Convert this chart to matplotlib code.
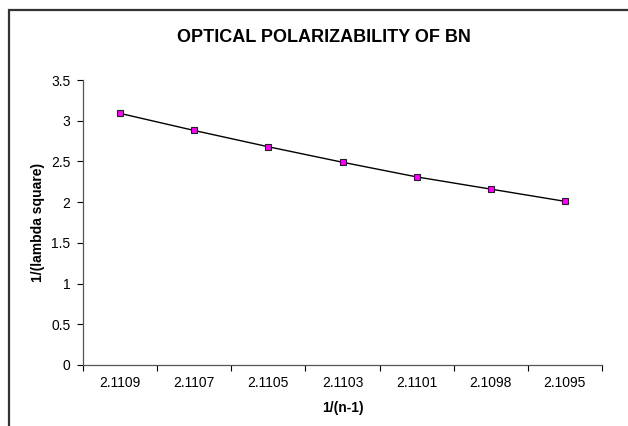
import matplotlib

matplotlib.use("Agg")
import matplotlib.pyplot as plt
import numpy as np
from matplotlib.patches import Rectangle

# values
categories = ["2.1109", "2.1107", "2.1105", "2.1103", "2.1101", "2.1098", "2.1095"]
inv_lambda_sq = [3.09, 2.88, 2.68, 2.49, 2.31, 2.16, 2.01]
y_ticks = [0, 0.5, 1, 1.5, 2, 2.5, 3, 3.5]

plt.rcParams["font.family"] = ["Liberation Sans", "DejaVu Sans"]

W, H = 628, 426
fig = plt.figure(figsize=(W / 100, H / 100), dpi=100)
ax = fig.add_axes([83 / W, 1 - 365 / H, (602 - 83) / W, (365 - 80) / H])

# chart-area frame (only left and top edges are visible in the crop)
fig.patches.append(
    Rectangle((9 / W, -0.2), 1.5, 1.2 - 10 / H, transform=fig.transFigure,
              fill=False, edgecolor="#333333", lw=1.6)
)

x = np.arange(len(categories))
ax.plot(x, inv_lambda_sq, color="black", lw=1.0, marker="s", ms=4.5,
        mfc="#ff00ff", mec="#222222", mew=0.8)

ax.set_xlim(-0.5, len(categories) - 0.5)
ax.set_ylim(0, 3.5)
ax.set_yticks(y_ticks)
ax.set_yticklabels([f"{v:g}" for v in y_ticks])
ax.set_xticks(x)
ax.set_xticklabels(categories)
ax.set_xticks(np.arange(len(categories) + 1) - 0.5, minor=True)
ax.tick_params(axis="x", which="major", length=0, pad=8, labelsize=10)
ax.tick_params(axis="x", which="minor", length=4, width=0.8, direction="out")
ax.tick_params(axis="y", length=4, width=0.8, direction="out", pad=5, labelsize=10)

for side in ("top", "right"):
    ax.spines[side].set_visible(False)
for side in ("left", "bottom"):
    ax.spines[side].set_color("#555555")
    ax.spines[side].set_linewidth(0.9)

ax.set_xlabel("1/(n-1)", fontsize=10, fontweight="bold")
ax.set_ylabel("1/(lambda square)", fontsize=10, fontweight="bold")
ax.xaxis.set_label_coords(0.5, -(408 - 365) / 285, transform=ax.transAxes)
ax.xaxis.label.set_va("center")
ax.yaxis.set_label_coords((38 - 83) / 519, 0.5, transform=ax.transAxes)
ax.yaxis.label.set_va("center")
fig.text(324 / W, 1 - 37 / H, "OPTICAL POLARIZABILITY OF BN",
         ha="center", va="center", fontsize=13, fontweight="bold")

fig.savefig("out.png", dpi=100)
